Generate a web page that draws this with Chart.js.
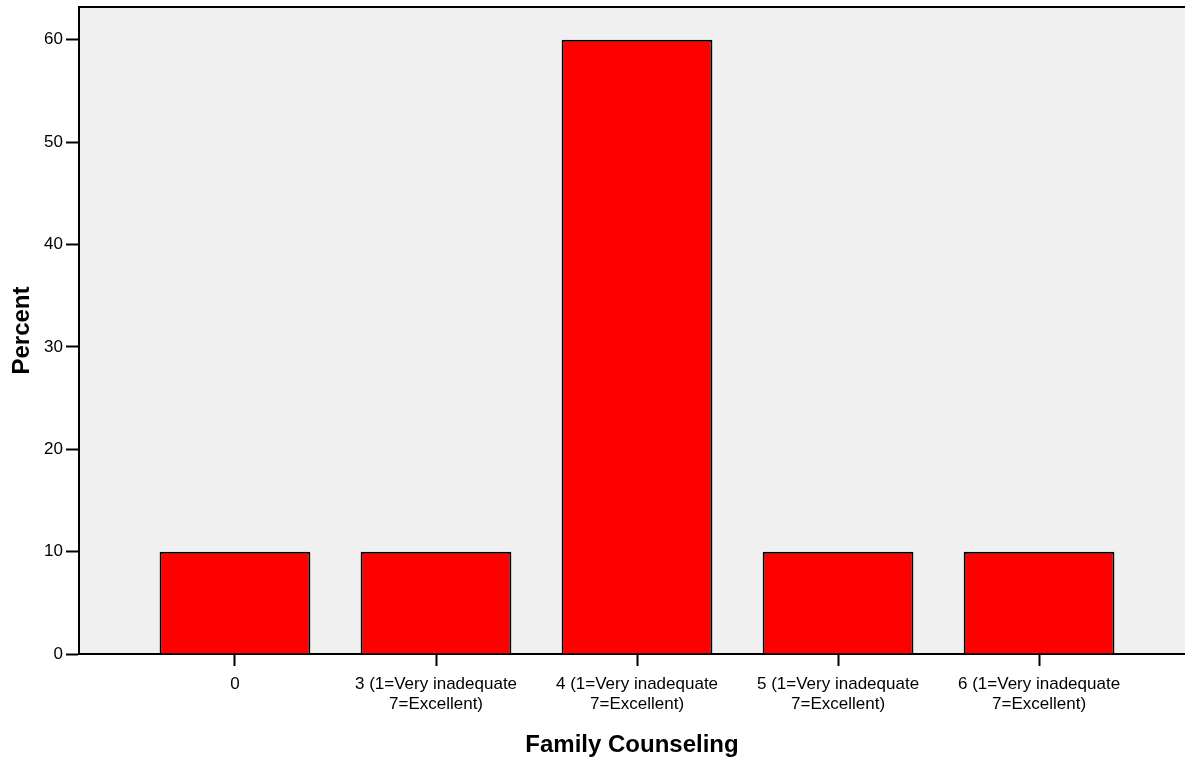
<!DOCTYPE html>
<html>
<head>
<meta charset="utf-8">
<script src="https://cdn.jsdelivr.net/npm/chart.js@4.4.1/dist/chart.umd.min.js"></script>
<style>
  html, body { margin: 0; padding: 0; background: #fff; }
  #wrap { width: 1185px; height: 764px; }
</style>
</head>
<body>
<div id="wrap"><canvas id="famChart" width="1185" height="764"></canvas></div>
<script>
// category labels (each one split into its printed lines)
var categories = [
    ['0'],
    ['3 (1=Very inadequate', '7=Excellent)'],
    ['4 (1=Very inadequate', '7=Excellent)'],
    ['5 (1=Very inadequate', '7=Excellent)'],
    ['6 (1=Very inadequate', '7=Excellent)']
];
var percents = [10, 10, 60, 10, 10];
var yTicks = [0, 10, 20, 30, 40, 50, 60];

var FONT = '"Liberation Sans", Arial, sans-serif';

// grey plot background + top frame line
var plotFrame = {
    id: 'plotFrame',
    beforeDraw: function(chart) {
        var a = chart.chartArea, c = chart.ctx;
        c.save();
        c.fillStyle = '#f0f0f0';
        c.fillRect(a.left, a.top, a.right - a.left, a.bottom - a.top);
        c.strokeStyle = '#000';
        c.lineWidth = 2;
        c.beginPath();
        c.moveTo(a.left - 1, a.top);
        c.lineTo(a.right, a.top);
        c.stroke();
        c.restore();
    }
};

var ctx = document.getElementById('famChart').getContext('2d');
new Chart(ctx, {
    type: 'bar',
    data: {
        datasets: [{
            label: 'Percent',
            data: percents.map(function(v, i) { return {x: i, y: v}; }),
            backgroundColor: '#ff0000',
            borderColor: '#000',
            borderWidth: 2,
            categoryPercentage: 1,
            barPercentage: 0.75
        }]
    },
    options: {
        responsive: false,
        animation: false,
        layout: { padding: { top: 7, right: 0, left: 0, bottom: 0 } },
        plugins: {
            legend: { display: false },
            tooltip: { enabled: false }
        },
        scales: {
            x: {
                type: 'linear',
                min: -0.776,
                max: 4.726,
                offset: false,
                afterBuildTicks: function(scale) {
                    scale.ticks = categories.map(function(c, i) { return {value: i}; });
                },
                afterFit: function(scale) {
                    scale.height = 110;
                    scale.paddingLeft = 0;
                    scale.paddingRight = 0;
                },
                grid: {
                    offset: false,
                    drawOnChartArea: false,
                    drawTicks: true,
                    tickLength: 12,
                    tickWidth: 2,
                    tickColor: '#000'
                },
                border: { display: true, color: '#000', width: 2 },
                ticks: {
                    autoSkip: false,
                    maxRotation: 0,
                    padding: 9,
                    color: '#000',
                    font: { family: FONT, size: 17, lineHeight: 1.15 },
                    callback: function(value) { return categories[value]; }
                },
                title: {
                    display: true,
                    text: 'Family Counseling',
                    color: '#000',
                    font: { family: FONT, size: 24, weight: 'bold' },
                    padding: { top: 0, bottom: 4 }
                }
            },
            y: {
                min: 0,
                max: 63.2,
                afterBuildTicks: function(scale) {
                    scale.ticks = yTicks.map(function(v) { return {value: v}; });
                },
                afterFit: function(scale) {
                    scale.width = 79;
                    scale.paddingTop = 0;
                    scale.paddingBottom = 0;
                },
                grid: {
                    drawOnChartArea: false,
                    drawTicks: true,
                    tickLength: 13,
                    tickWidth: 2,
                    tickColor: '#000'
                },
                border: { display: true, color: '#000', width: 2 },
                ticks: {
                    padding: 3,
                    color: '#000',
                    font: { family: FONT, size: 17 }
                },
                title: {
                    display: true,
                    text: 'Percent',
                    color: '#000',
                    font: { family: FONT, size: 24, weight: 'bold' },
                    padding: { top: 8, bottom: 0 }
                }
            }
        }
    },
    plugins: [plotFrame]
});
</script>
</body>
</html>
